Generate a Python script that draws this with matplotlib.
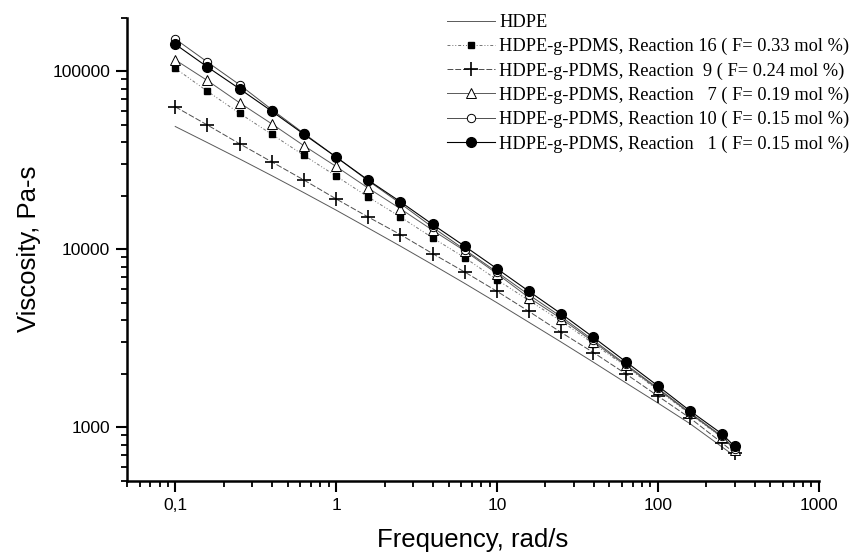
import numpy as np
import matplotlib.pyplot as plt
from matplotlib.ticker import LogLocator, NullFormatter

# частоты, рад/с
freq = [0.1, 0.158, 0.251, 0.398, 0.631, 1, 1.58, 2.51, 3.98, 6.31,
        10, 15.8, 25.1, 39.8, 63.1, 100, 158, 251, 300]

# вязкость, Па*с
hdpe = [48980, 39810, 32210, 25940, 20800, 16600, 13180, 10420, 8200, 6430,
        5010, 3890, 3010, 2320, 1780, 1370, 1050, 775, 690]
r16 = [104000, 77400, 58100, 44300, 33700, 25800, 19700, 15200, 11600, 8970,
       6750, 5160, 3950, 2950, 2200, 1620, 1190, 875, 745]
r9 = [63200, 50000, 39200, 31000, 24500, 19200, 15200, 12100, 9460, 7450,
      5810, 4480, 3410, 2630, 2000, 1500, 1130, 817, 716]
r7 = [116000, 88900, 66600, 50700, 38200, 29200, 22100, 16900, 12800, 9800,
      7300, 5350, 4080, 3020, 2230, 1640, 1200, 880, 750]
r10 = [152000, 113000, 84100, 61000, 44800, 33000, 24300, 18100, 13300, 9950,
       7450, 5550, 4180, 3080, 2260, 1660, 1210, 890, 760]
r1 = [142000, 106000, 79800, 59700, 44300, 33000, 24500, 18500, 13800, 10400,
      7780, 5810, 4340, 3200, 2340, 1710, 1240, 917, 781]

labels = [
    'HDPE',
    'HDPE-g-PDMS, Reaction 16 ( F= 0.33 mol %)',
    'HDPE-g-PDMS, Reaction  9 ( F= 0.24 mol %)',
    'HDPE-g-PDMS, Reaction   7 ( F= 0.19 mol %)',
    'HDPE-g-PDMS, Reaction 10 ( F= 0.15 mol %)',
    'HDPE-g-PDMS, Reaction   1 ( F= 0.15 mol %)',
]

xticks = [0.1, 1, 10, 100, 1000]
xtick_labels = ['0,1', '1', '10', '100', '1000']
yticks = [1000, 10000, 100000]

plt.rcParams['font.family'] = 'Liberation Sans'

fig = plt.figure(figsize=(8.51, 5.54), dpi=100)
ax = fig.add_axes([0.149, 0.132, 0.813, 0.836])

ax.plot(freq, hdpe, '-', color='0.35', lw=0.7, label=labels[0])
ax.plot(freq, r16, linestyle=(0, (3, 2, 1, 2, 1, 2)), color='0.45', lw=0.7,
        marker='s', ms=5, mfc='black', mec='black', label=labels[1])
ax.plot(freq, r9, linestyle=(0, (6, 2)), color='0.3', lw=0.7,
        marker='+', ms=10, mew=1.2, mec='black', label=labels[2])
ax.plot(freq, r7, '-', color='0.35', lw=0.7,
        marker='^', ms=7, mfc='white', mec='black', mew=0.7, label=labels[3])
ax.plot(freq, r10, '-', color='0.3', lw=0.7,
        marker='o', ms=6, mfc='white', mec='black', mew=0.7, label=labels[4])
ax.plot(freq, r1, '-', color='black', lw=0.8,
        marker='o', ms=7, mfc='black', mec='black', label=labels[5])

ax.set_xscale('log')
ax.set_yscale('log')
ax.set_xlim(0.05, 1000)
ax.set_ylim(500, 200000)

ax.set_xticks(xticks)
ax.set_xticklabels(xtick_labels)
ax.set_yticks(yticks)
ax.set_yticklabels([str(v) for v in yticks])
ax.xaxis.set_minor_locator(LogLocator(base=10, subs=np.arange(2, 10)))
ax.yaxis.set_minor_locator(LogLocator(base=10, subs=np.arange(2, 10)))
ax.xaxis.set_minor_formatter(NullFormatter())
ax.yaxis.set_minor_formatter(NullFormatter())

for s in ['top', 'right']:
    ax.spines[s].set_visible(False)
for s in ['left', 'bottom']:
    ax.spines[s].set_linewidth(1.8)

ax.tick_params(which='major', length=8, width=1.5, labelsize=12.5, pad=4)
ax.tick_params(which='minor', length=4, width=1.3)

ax.set_xlabel('Frequency, rad/s', fontsize=18.5, labelpad=11)
ax.set_ylabel('Viscosity, Pa-s', fontsize=18.5, labelpad=8)

leg = ax.legend(loc='upper right', bbox_to_anchor=(1.055, 1.024), frameon=False,
                prop={'family': 'Liberation Serif', 'size': 13.25},
                handlelength=2.6, handletextpad=0.22, labelspacing=0.38,
                borderaxespad=0.0)

fig.savefig('out.png', dpi=100)
